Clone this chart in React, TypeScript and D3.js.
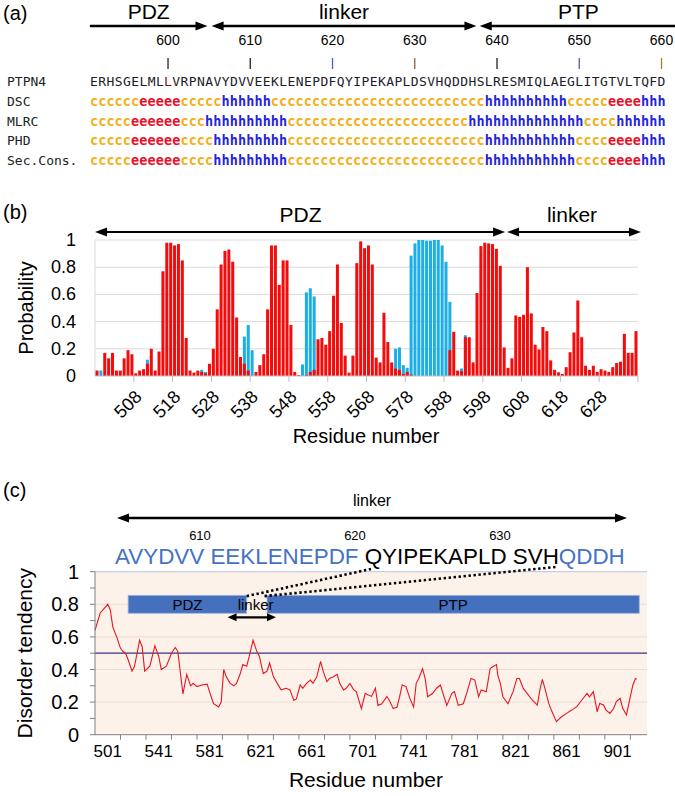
import React from 'react'
import * as d3 from 'd3'

const SANS = '"Liberation Sans", Arial, sans-serif'
const MONO = '"DejaVu Sans Mono", monospace'

// ---- (a) alignment ----
const alignStart = 591
const alignLabels = ['PTPN4', 'DSC', 'MLRC', 'PHD', 'Sec.Cons.']
const alignSeqs = [
  'ERHSGELMLLVRPNAVYDVVEEKLENEPDFQYIPEKAPLDSVHQDDHSLRESMIQLAEGLITGTVLTQFD',
  ['cccccc', 'eeeee', 'ccccc', 'hhhhhh', 'cccccccccccccccccccccccccc', 'hhhhhhhhhh', 'ccccc', 'eeee', 'hhh'].join(''),
  ['ccccc', 'eeeeee', 'ccc', 'hhhhhhhhhh', 'cccccccccccccccccccccc', 'hhhhhhhhhhhhhh', 'cccc', 'hhhhhh'].join(''),
  ['ccccc', 'eeeeee', 'cccc', 'hhhhhhhhh', 'cccccccccccccccccccccccc', 'hhhhhhhhhhh', 'cccc', 'eeee', 'hhh'].join(''),
  ['ccccc', 'eeeeee', 'cccc', 'hhhhhhhhh', 'cccccccccccccccccccccccc', 'hhhhhhhhhhh', 'cccc', 'eeee', 'hhh'].join(''),
]
const alignTicks = [600, 610, 620, 630, 640, 650, 660]
const alignTickColors = ['#222', '#222', '#4a5fd0', '#9a5a3a', '#222', '#6a4fb0', '#b07a20']
const alignDomains = [
  { label: 'PDZ', from: 590.5, to: 604.8, left: false, right: true },
  { label: 'linker', from: 605.3, to: 637.5, left: true, right: true },
  { label: 'PTP', from: 637.9, to: 661.9, left: true, right: false },
]
const ssColor: Record<string, string> = { c: '#f4b016', e: '#e8112b', h: '#2424dc' }

// ---- (b) secondary structure probability ----
const probResidues = d3.range(498, 638)
const strandProb = [
  0.04, 0, 0.17, 0.13, 0.17, 0.04, 0.04, 0.13, 0.19, 0.16,
  0.02, 0.04, 0.05, 0.09, 0.2, 0.04, 0.18, 0.77, 0.98, 0.98,
  0.96, 0.97, 0.85, 0.28, 0.04, 0.025, 0.04, 0.03, 0.02, 0.09,
  0.2, 0.49, 0.82, 0.92, 0.93, 0.84, 0.43, 0.14, 0.09, 0.04,
  0, 0.03, 0.08, 0.16, 0.49, 0.96, 0.96, 0.67, 0.85, 0.85,
  0.375, 0.03, 0.007, 0, 0.007, 0.03, 0.045, 0.27, 0.28, 0.23,
  0.33, 0.59, 0.82, 0.39, 0.15, 0.025, 0.15, 0.83, 0.99, 0.94,
  0.96, 0.82, 0.135, 0.1, 0.465, 0.25, 0.1, 0.055, 0.045, 0.015,
  0.03, 0.01, 0, 0, 0, 0, 0, 0, 0, 0,
  0, 0.19, 0.325, 0.04, 0.035, 0.285, 0.285, 0.1, 0.61, 0.955,
  0.98, 0.975, 0.97, 0.935, 0.81, 0.21, 0.06, 0.13, 0.445, 0.435,
  0.45, 0.8, 0.46, 0.23, 0.195, 0.36, 0.33, 0.115, 0.045, 0.027,
  0.015, 0.065, 0.175, 0.32, 0.555, 0.285, 0.075, 0.045, 0.075, 0.03,
  0.05, 0.04, 0.03, 0.065, 0.095, 0.105, 0.31, 0.17, 0.17, 0.33,
]
const helixProb = [
  0, 0.04, 0, 0, 0, 0, 0, 0, 0, 0,
  0, 0, 0, 0.12, 0, 0, 0, 0, 0, 0,
  0, 0, 0, 0, 0, 0, 0, 0.045, 0.03, 0,
  0, 0, 0, 0, 0, 0, 0, 0, 0.29, 0.375,
  0.19, 0, 0, 0, 0, 0, 0, 0, 0, 0,
  0, 0, 0, 0.085, 0.615, 0.645, 0.585, 0, 0, 0,
  0, 0, 0, 0, 0, 0, 0, 0, 0, 0,
  0, 0, 0, 0, 0, 0, 0, 0.2, 0.21, 0.08,
  0.06, 0.885, 0.975, 1.0, 1.0, 0.995, 0.995, 1.0, 1.0, 0.96,
  0.84, 0.545, 0, 0, 0.055, 0.3, 0, 0, 0, 0,
  0, 0, 0, 0, 0, 0, 0, 0, 0, 0,
  0, 0, 0, 0, 0, 0, 0, 0, 0, 0,
  0, 0, 0, 0, 0, 0, 0, 0, 0, 0,
  0, 0, 0, 0, 0, 0, 0, 0, 0, 0,
]
const probTickLabels = [508, 518, 528, 538, 548, 558, 568, 578, 588, 598, 608, 618, 628]
const probYTicks = [0, 0.2, 0.4, 0.6, 0.8, 1]

// ---- (c) disorder tendency ----
const disResidues = [
  501, 505, 511, 513, 515, 518, 521, 523, 525, 527, 530, 532, 536, 538, 540, 544, 548, 551, 553, 557,
  561, 564, 566, 568, 570, 573, 576, 578, 581, 585, 589, 591, 594, 598, 600, 602, 604, 607, 610, 612,
  615, 617, 620, 622, 625, 628, 630, 633, 636, 638, 641, 644, 647, 651, 654, 657, 659, 662, 664, 667,
  670, 672, 675, 678, 680, 683, 685, 688, 691, 693, 696, 698, 701, 704, 706, 710, 713, 715, 718, 721,
  723, 726, 730, 732, 735, 738, 740, 742, 745, 748, 751, 753, 755, 758, 760, 762, 766, 769, 772, 774,
  777, 781, 783, 786, 790, 793, 796, 799, 802, 804, 808, 811, 813, 816, 817, 819, 821, 825, 829, 832,
  834, 837, 840, 844, 848, 850, 852, 854, 857, 859, 863, 867, 871, 875, 879, 883, 887, 889, 892, 895,
  897, 900, 902, 905, 908, 910, 913, 915, 918, 921, 923, 925, 926,
]
const disValues = [
  0.64, 0.745, 0.8, 0.765, 0.66, 0.6, 0.53, 0.51, 0.5, 0.46, 0.39, 0.42, 0.58, 0.54, 0.39, 0.42, 0.545, 0.48, 0.4, 0.42,
  0.5, 0.535, 0.51, 0.38, 0.25, 0.37, 0.3, 0.315, 0.295, 0.305, 0.31, 0.26, 0.19, 0.17, 0.2, 0.4, 0.355, 0.315, 0.3, 0.315,
  0.375, 0.43, 0.42, 0.48, 0.58, 0.51, 0.48, 0.375, 0.39, 0.44, 0.355, 0.315, 0.275, 0.285, 0.275, 0.21, 0.22, 0.305, 0.285, 0.315,
  0.335, 0.315, 0.355, 0.45, 0.39, 0.325, 0.345, 0.355, 0.37, 0.315, 0.275, 0.285, 0.315, 0.275, 0.265, 0.16, 0.254, 0.245, 0.235, 0.285,
  0.18, 0.19, 0.235, 0.21, 0.16, 0.17, 0.233, 0.305, 0.295, 0.223, 0.17, 0.315, 0.345, 0.405, 0.345, 0.233, 0.254, 0.285, 0.305, 0.254,
  0.18, 0.254, 0.264, 0.18, 0.19, 0.264, 0.345, 0.335, 0.233, 0.274, 0.264, 0.405, 0.417, 0.43, 0.366, 0.315, 0.233, 0.19, 0.264, 0.345,
  0.345, 0.284, 0.254, 0.213, 0.182, 0.274, 0.34, 0.284, 0.192, 0.151, 0.08, 0.11, 0.131, 0.151, 0.172, 0.213, 0.254, 0.233, 0.264, 0.141,
  0.192, 0.182, 0.151, 0.131, 0.162, 0.203, 0.223, 0.162, 0.121, 0.233, 0.305, 0.345, 0.34,
]
const disXLabels = [501, 541, 581, 621, 661, 701, 741, 781, 821, 861, 901]
const disXTicks = d3.range(521, 926, 20)
const disYLabels = [0, 0.2, 0.4, 0.6, 0.8, 1]
const disYTicks = d3.range(0, 1.01, 0.1)
const domainBlocks = [
  { label: 'PDZ', from: 527, to: 620 },
  { label: 'PTP', from: 636, to: 928 },
]
const linkerSeqParts = [
  { text: 'AVYDVV EEKLENEPDF ', color: '#4472c4' },
  { text: 'QYIPEKAPLD SVH', color: '#000' },
  { text: 'QDDH', color: '#4472c4' },
]
const linkerSeqNumbers = [
  { n: 610, x: 200 },
  { n: 620, x: 355 },
  { n: 630, x: 500 },
]

function Arrow({ x1, x2, y, left = true, right = true, head = 12, half = 4.5, sw = 2.5 }: any) {
  const a = left ? x1 + head - 1 : x1
  const b = right ? x2 - head + 1 : x2
  return (
    <g fill="#000">
      <line x1={a} x2={b} y1={y} y2={y} stroke="#000" strokeWidth={sw} />
      {left && <path d={`M${x1},${y}L${x1 + head},${y - half}L${x1 + head},${y + half}Z`} />}
      {right && <path d={`M${x2},${y}L${x2 - head},${y - half}L${x2 - head},${y + half}Z`} />}
    </g>
  )
}

const fmt = (v: number) => (v === 0 ? '0' : v === 1 ? '1' : d3.format('.1f')(v))

export default function App() {
  // (a)
  const xa = d3.scaleLinear().domain([591, 660]).range([94, 661.5])
  const rowY = d3.scalePoint<number>().domain(d3.range(alignLabels.length)).range([86, 165])

  // (b)
  const xb = d3.scaleBand<number>().domain(probResidues).range([95.5, 637.5]).paddingInner(0.22)
  const yb = d3.scaleLinear().domain([0, 1]).range([376, 240])
  const step = xb.step()
  const edge = (r: number) => (xb(r) as number) - (step * 0.22) / 2

  // (c)
  const xc = d3.scaleLinear().domain([501, 926]).range([95, 636.7])
  const yc = d3.scaleLinear().domain([0, 1]).range([734.7, 571.7])
  const line = d3.line<number>().x((_, i) => xc(disResidues[i])).y(d => yc(d))
  const plotRight = 647

  return (
    <svg width={675} height={796} style={{ position: 'absolute', left: 0, top: 0, background: '#fff' }} fontFamily={SANS}>
      {/* ---------- (a) ---------- */}
      <text x={3} y={20} fontSize={20}>(a)</text>
      {alignDomains.map(d => (
        <g key={d.label}>
          <Arrow x1={xa(d.from)} x2={xa(d.to)} y={26} left={d.left} right={d.right} sw={2.5} head={12} half={4.5} />
          <text x={(xa(d.from) + xa(d.to)) / 2} y={19} fontSize={21} textAnchor="middle">{d.label}</text>
        </g>
      ))}
      {alignTicks.map((t, i) => (
        <g key={t}>
          <text x={xa(t)} y={45} fontSize={14} textAnchor="middle">{t}</text>
          <line x1={xa(t)} x2={xa(t)} y1={58} y2={69} stroke={alignTickColors[i]} strokeWidth={1.3} />
        </g>
      ))}
      {alignLabels.map((lab, r) => (
        <g key={lab} fontFamily={MONO}>
          <text x={7} y={rowY(r)} fontSize={13} fill="#222">{lab}</text>
          {alignSeqs[r].split('').map((ch, i) => (
            <text
              key={i}
              x={xa(alignStart + i)}
              y={rowY(r)}
              textAnchor="middle"
              fontSize={r === 0 ? 13 : 13.5}
              fontWeight={r === 0 ? 'normal' : 'bold'}
              fill={r === 0 ? (alignStart + i === 600 ? '#7a1420' : '#1c1c2a') : ssColor[ch]}
            >
              {ch}
            </text>
          ))}
        </g>
      ))}

      {/* ---------- (b) ---------- */}
      <text x={3} y={219} fontSize={20}>(b)</text>
      <Arrow x1={edge(498)} x2={edge(604) - 1} y={232} sw={2.2} />
      <Arrow x1={edge(604) + 1} x2={edge(637) + step + 3} y={232} sw={2.2} />
      <text x={(edge(498) + edge(604)) / 2} y={222} fontSize={21} textAnchor="middle">PDZ</text>
      <text x={(edge(604) + edge(637) + step) / 2} y={222} fontSize={21} textAnchor="middle">linker</text>

      {probYTicks.map(t => (
        <g key={t}>
          {t > 0 && <line x1={95} x2={638} y1={yb(t)} y2={yb(t)} stroke="#d9d9d9" strokeWidth={1} />}
          <text x={76} y={yb(t) + 6} fontSize={18} textAnchor="end">{fmt(t)}</text>
        </g>
      ))}
      <line x1={95} x2={95} y1={yb(1)} y2={yb(0)} stroke="#d9d9d9" />
      {probResidues.map((r, i) =>
        helixProb[i] > 0 ? (
          <rect key={'h' + r} x={xb(r)} y={yb(helixProb[i])} width={xb.bandwidth()} height={yb(0) - yb(helixProb[i])} fill="#1daee6" />
        ) : null
      )}
      {probResidues.map((r, i) =>
        strandProb[i] > 0 ? (
          <rect key={'s' + r} x={xb(r)} y={yb(strandProb[i])} width={xb.bandwidth()} height={yb(0) - yb(strandProb[i])} fill="#f40c0c" />
        ) : null
      )}
      <line x1={95} x2={638} y1={yb(0)} y2={yb(0)} stroke="#bfbfbf" />
      {probTickLabels.map(t => (
        <g key={t}>
          <line x1={edge(t)} x2={edge(t)} y1={yb(0)} y2={yb(0) + 6} stroke="#bfbfbf" />
          <text transform={`translate(${edge(t) + 9},${yb(0) + 22}) rotate(-45)`} fontSize={18} textAnchor="end">{t}</text>
        </g>
      ))}
      <line x1={edge(637) + step} x2={edge(637) + step} y1={yb(0)} y2={yb(0) + 6} stroke="#bfbfbf" />
      <text transform={`translate(33,${(yb(0) + yb(1)) / 2}) rotate(-90)`} fontSize={20} textAnchor="middle">Probability</text>
      <text x={366} y={443} fontSize={20} textAnchor="middle">Residue number</text>

      {/* ---------- (c) ---------- */}
      <text x={3} y={497} fontSize={20}>(c)</text>
      <text x={372} y={506} fontSize={16} textAnchor="middle">linker</text>
      <Arrow x1={117} x2={627} y={518} sw={2.5} />
      {linkerSeqNumbers.map(d => (
        <text key={d.n} x={d.x} y={540} fontSize={13} textAnchor="middle">{d.n}</text>
      ))}
      <text x={115} y={564} fontSize={22.4}>
        {linkerSeqParts.map((p, i) => (
          <tspan key={i} fill={p.color} style={{ whiteSpace: 'pre' }}>{p.text}</tspan>
        ))}
      </text>

      <rect x={95} y={yc(1)} width={plotRight - 95} height={yc(0) - yc(1)} fill="#fdf2ea" />
      {[0.2, 0.4, 0.6, 0.8].map(t => (
        <line key={t} x1={95} x2={plotRight} y1={yc(t)} y2={yc(t)} stroke="#eadcd6" strokeWidth={1} />
      ))}
      <line x1={95} x2={plotRight} y1={yc(1)} y2={yc(1)} stroke="#c5cfe3" strokeWidth={1.2} />
      <line x1={95} x2={plotRight} y1={yc(0.5)} y2={yc(0.5)} stroke="#34347e" strokeWidth={1.2} />

      {domainBlocks.map(d => (
        <g key={d.label}>
          <rect x={xc(d.from)} y={yc(0.855)} width={xc(d.to) - xc(d.from)} height={yc(0.745) - yc(0.855)} fill="#4570bd" stroke="#9fb4dc" strokeWidth={0.8} />
          <text x={(xc(d.from) + xc(d.to)) / 2} y={yc(0.8) + 6} fontSize={15} textAnchor="middle">{d.label}</text>
        </g>
      ))}
      <text x={xc(627)} y={yc(0.8) + 6} fontSize={15} textAnchor="middle">linker</text>
      <Arrow x1={xc(605)} x2={xc(643)} y={yc(0.72)} sw={2.2} head={9} half={4} />
      <line x1={xc(620)} y1={yc(0.85)} x2={371} y2={569} stroke="#000" strokeWidth={2.6} strokeDasharray="2.4 2.6" />
      <line x1={xc(634)} y1={yc(0.85)} x2={556} y2={567} stroke="#000" strokeWidth={2.6} strokeDasharray="2.4 2.6" />

      <path d={line(disValues) || ''} fill="none" stroke="#e8141e" strokeWidth={1.1} />

      <line x1={95} x2={95} y1={yc(1)} y2={yc(0)} stroke="#808080" />
      {disYTicks.map(t => (
        <line key={t} x1={90} x2={95} y1={yc(t)} y2={yc(t)} stroke="#808080" />
      ))}
      {disYLabels.map(t => (
        <text key={t} x={79} y={yc(t) + 7} fontSize={20} textAnchor="end">{fmt(t)}</text>
      ))}
      <line x1={95} x2={plotRight} y1={yc(0)} y2={yc(0)} stroke="#808080" />
      {disXTicks.map(t => (
        <line key={t} x1={xc(t)} x2={xc(t)} y1={yc(0)} y2={yc(0) + 5} stroke="#808080" />
      ))}
      {disXLabels.map(t => (
        <text key={t} x={xc(t + 10)} y={757} fontSize={17} textAnchor="middle">{t}</text>
      ))}
      <text transform={`translate(32,${(yc(0) + yc(1)) / 2}) rotate(-90)`} fontSize={21} textAnchor="middle">Disorder tendency</text>
      <text x={366} y={787} fontSize={21} textAnchor="middle">Residue number</text>
    </svg>
  )
}
